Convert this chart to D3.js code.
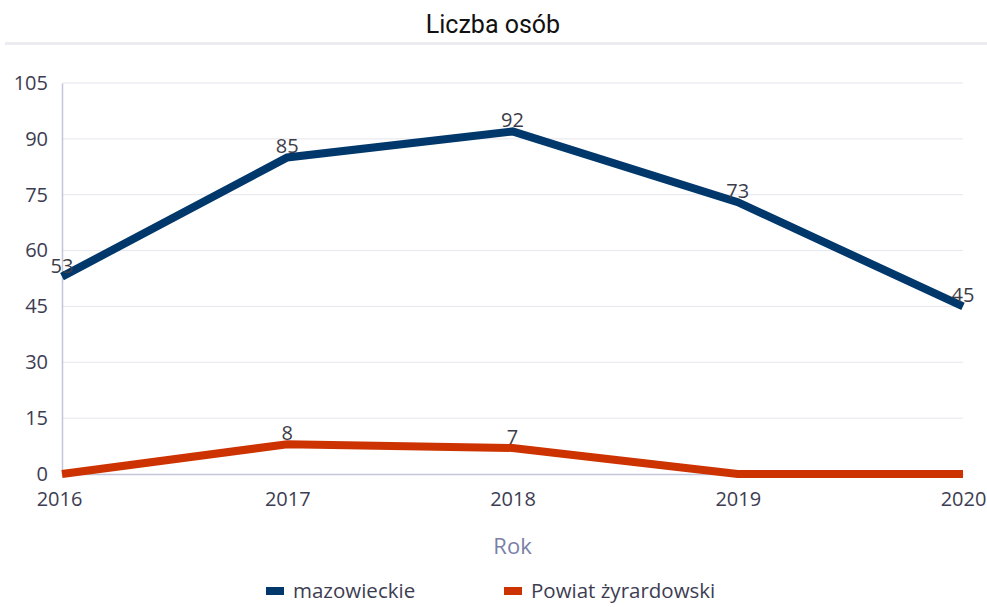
<!DOCTYPE html>
<html>
<head>
<meta charset="utf-8">
<script src="https://cdn.jsdelivr.net/npm/d3@7"></script>
<style>
  body { margin: 0; background: #fff; }
  svg text { font-family: "Open Sans", sans-serif; }
</style>
</head>
<body>
<div id="chart"></div>
<script>
var years = [2016, 2017, 2018, 2019, 2020];
var mazowieckie = [53, 85, 92, 73, 45];
var zyrardowski = [0, 8, 7, 0, 0];
var yTicks = [0, 15, 30, 45, 60, 75, 90, 105];
var seriesNames = ["mazowieckie", "Powiat żyrardowski"];
var seriesColors = ["#00386b", "#cc3300"];

var width = 987, height = 607;
var margin = {top: 83, right: 24, bottom: 133, left: 62};

var svg = d3.select("#chart")
    .append("svg")
    .attr("width", width)
    .attr("height", height);

// title + separator
svg.append("text")
    .attr("x", 493)
    .attr("y", 33)
    .attr("text-anchor", "middle")
    .style("font-family", "Roboto, sans-serif")
    .style("font-size", "25px")
    .style("fill", "#111")
    .text("Liczba osób");

svg.append("rect")
    .attr("x", 5).attr("y", 42)
    .attr("width", width - 5).attr("height", 3)
    .attr("fill", "#ececf0");

const x = d3.scalePoint()
    .domain(years)
    .range([margin.left, width - margin.right]);

const y = d3.scaleLinear()
    .domain([0, 105])
    .range([height - margin.bottom, margin.top]);

// grid
svg.append("g")
    .selectAll("line")
    .data(yTicks.filter(d => d > 0))
    .enter()
    .append("line")
    .attr("x1", margin.left)
    .attr("x2", width - margin.right)
    .attr("y1", d => y(d))
    .attr("y2", d => y(d))
    .attr("stroke", "#e6e6ee")
    .attr("stroke-width", 1);

// axes
var yAxis = svg.append("g")
    .attr("transform", `translate(${margin.left},0)`)
    .call(d3.axisLeft(y).tickValues(yTicks).tickSize(0).tickPadding(14));
yAxis.select(".domain").attr("stroke", "#c3c6da").attr("stroke-width", 1.5);
yAxis.selectAll("text").style("font-size", "20px").style("fill", "#3d3d52");

var xAxis = svg.append("g")
    .attr("transform", `translate(0,${y(0)})`)
    .call(d3.axisBottom(x).tickSize(0).tickPadding(18).tickFormat(d3.format("d")));
xAxis.select(".domain").attr("stroke", "#c3c6da").attr("stroke-width", 1.5);
xAxis.selectAll("text").style("font-size", "20px").style("fill", "#3d3d52");
xAxis.selectAll(".tick text").attr("dx", (d, i) => i === 0 ? -3 : 0);

svg.append("text")
    .attr("x", (margin.left + width - margin.right) / 2)
    .attr("y", 554)
    .attr("text-anchor", "middle")
    .style("font-size", "22px")
    .style("fill", "#7b7fa6")
    .text("Rok");

// lines
var line = d3.line()
    .x((d, i) => x(years[i]))
    .y(d => y(d));

[mazowieckie, zyrardowski].forEach(function (vals, s) {
    svg.append("path")
        .datum(vals)
        .attr("d", line)
        .attr("fill", "none")
        .attr("stroke", seriesColors[s])
        .attr("stroke-width", 8);
});

[mazowieckie, zyrardowski].forEach(function (vals, s) {
    svg.selectAll(".lbl" + s)
        .data(vals.map((v, i) => ({v: v, year: years[i]})).filter(d => d.v > 0))
        .enter()
        .append("text")
        .attr("x", d => x(d.year))
        .attr("y", d => y(d.v) - 4)
        .attr("text-anchor", "middle")
        .style("font-size", "20px")
        .style("fill", "#3d3d4a")
        .text(d => d.v);
});

// legend
var legend = svg.append("g");
var legendX = [266, 504];
seriesNames.forEach(function (name, i) {
    legend.append("rect")
        .attr("x", legendX[i]).attr("y", 587)
        .attr("width", 18).attr("height", 8)
        .attr("fill", seriesColors[i]);
    legend.append("text")
        .attr("x", legendX[i] + 27).attr("y", 598)
        .style("font-size", "20.5px")
        .style("fill", "#3d3d52")
        .text(name);
});
</script>
</body>
</html>
